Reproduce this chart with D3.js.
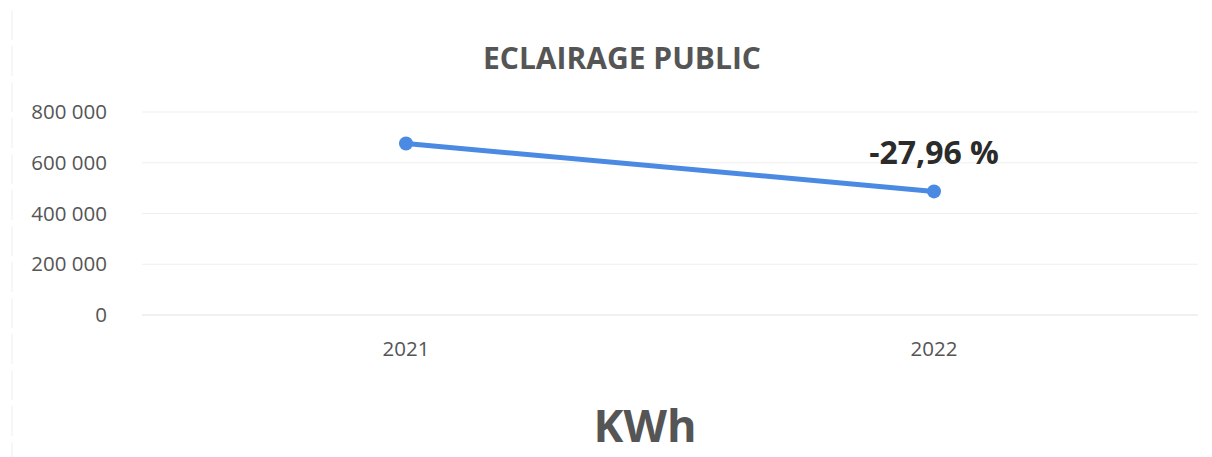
<!DOCTYPE html>
<html>
<head>
<meta charset="utf-8">
<script src="https://cdn.jsdelivr.net/npm/d3@7"></script>
<style>
  html, body { margin: 0; padding: 0; background: #ffffff; }
  svg { display: block; }
</style>
</head>
<body>
<svg id="chart" width="1212" height="457"></svg>
<script>
// Public lighting consumption, kWh per year
const years = ["2021", "2022"];
const consumption = [676000, 487000];
const yTicks = [0, 200000, 400000, 600000, 800000];
const changeLabel = "-27,96 %";
const chartTitle = "ECLAIRAGE PUBLIC";
const unitLabel = "KWh";

const W = 1212, H = 457;
const margin = { left: 142, right: 14, top: 112, bottom: 142 };
const font = "'Open Sans', 'Noto Sans', sans-serif";

const svg = d3.select("#chart");

const x = d3.scaleBand()
  .domain(years)
  .range([margin.left, W - margin.right]);

const y = d3.scaleLinear()
  .domain([0, 800000])
  .range([H - margin.bottom, margin.top]);

const fmt = v => d3.format(",")(v).replace(/,/g, " ");

// faint page edge on the left
svg.append("line")
  .attr("x1", 12).attr("x2", 12)
  .attr("y1", 10).attr("y2", H)
  .attr("stroke", "#f5f5f5")
  .attr("stroke-width", 1.5)
  .attr("stroke-dasharray", "30 6");

// horizontal gridlines
svg.append("g")
  .selectAll("line")
  .data(yTicks)
  .join("line")
  .attr("x1", margin.left)
  .attr("x2", W - margin.right)
  .attr("y1", d => y(d))
  .attr("y2", d => y(d))
  .attr("stroke", d => d === 0 ? "#e2e2e2" : "#efefef")
  .attr("stroke-width", 1);

// y axis labels
const yAxis = svg.append("g")
  .attr("transform", `translate(${margin.left - 35},0)`)
  .call(d3.axisLeft(y).tickValues(yTicks).tickFormat(fmt).tickSize(0).tickPadding(0));
yAxis.select(".domain").remove();
yAxis.selectAll("text")
  .attr("font-family", font)
  .attr("font-size", 20.5)
  .attr("fill", "#555555");

// x axis labels
const xAxis = svg.append("g")
  .attr("transform", `translate(0,${y(0) + 26})`)
  .call(d3.axisBottom(x).tickSize(0).tickPadding(0));
xAxis.select(".domain").remove();
xAxis.selectAll("text")
  .attr("font-family", font)
  .attr("font-size", 20.5)
  .attr("fill", "#555555");

const cx = d => x(d) + x.bandwidth() / 2;
const pts = years.map((yr, i) => ({ yr, v: consumption[i] }));

// line
svg.append("path")
  .datum(pts)
  .attr("fill", "none")
  .attr("stroke", "#4a8ae2")
  .attr("stroke-width", 5)
  .attr("stroke-linecap", "round")
  .attr("d", d3.line().x(d => cx(d.yr)).y(d => y(d.v)));

// markers
svg.append("g")
  .selectAll("circle")
  .data(pts)
  .join("circle")
  .attr("cx", d => cx(d.yr))
  .attr("cy", d => y(d.v))
  .attr("r", 7)
  .attr("fill", "#4a8ae2");

// change label above the 2022 point
svg.append("text")
  .attr("x", cx("2022"))
  .attr("y", y(consumption[1]) - 27)
  .attr("text-anchor", "middle")
  .attr("font-family", font)
  .attr("font-weight", "bold")
  .attr("font-size", 32)
  .attr("fill", "#2b2b2b")
  .text(changeLabel);

// title
svg.append("text")
  .attr("x", 622)
  .attr("y", 69)
  .attr("text-anchor", "middle")
  .attr("font-family", font)
  .attr("font-weight", "bold")
  .attr("font-size", 30)
  .attr("fill", "#555555")
  .text(chartTitle);

// unit
svg.append("text")
  .attr("x", 645)
  .attr("y", 442)
  .attr("text-anchor", "middle")
  .attr("font-family", font)
  .attr("font-weight", "bold")
  .attr("font-size", 45)
  .attr("fill", "#555555")
  .text(unitLabel);
</script>
</body>
</html>
